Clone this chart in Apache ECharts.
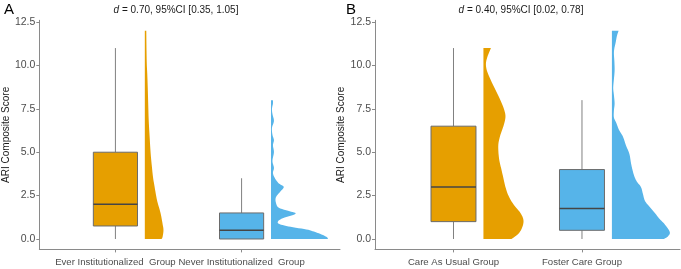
<!DOCTYPE html>
<html>
<head>
<meta charset="utf-8">
<script src="https://cdn.jsdelivr.net/npm/echarts@6/dist/echarts.min.js"></script>
<style>
  html, body { margin: 0; padding: 0; background: #fff; }
  #main { width: 681px; height: 269px; }
</style>
</head>
<body>
<div id="main"></div>
<script>
// groups (x categories)
const groupsA = ['Ever Institutionalized  Group', 'Never Institutionalized  Group'];
const groupsB = ['Care As Usual Group', 'Foster Care Group'];
const colors = ['#E69F00', '#56B4E9'];

// box stats: [min, Q1, median, Q3, max]
const boxA = [[0, 0.75, 2, 5, 11], [0, 0, 0.5, 1.5, 3.5]];
const boxB = [[0, 1, 3, 6.5, 11], [0, 0.5, 1.75, 4, 8]];

// half-violin densities: [score, relative density]
const densEver = [[0, 17], [0.1, 18], [0.5, 19], [0.9, 18], [1.5, 16], [2.1, 13], [2.5, 11.5], [3, 10], [3.5, 8.5],
  [4, 7.5], [4.9, 6], [5.8, 5], [6.8, 4], [7.7, 3.5], [8.7, 3], [9.5, 2.5], [10.1, 2], [11, 1.7], [12, 1.5]];
const densNever = [[0, 58], [0.1, 57], [0.25, 52], [0.4, 45], [0.55, 36], [0.7, 20], [0.85, 9], [1, 7], [1.2, 12],
  [1.45, 25], [1.6, 19], [1.8, 8], [2.1, 5], [2.4, 5], [2.7, 9], [3, 13], [3.2, 8], [3.5, 4], [3.8, 2], [4.1, 3],
  [4.5, 1.5], [5, 3], [5.4, 2], [5.7, 3], [6, 1.5], [6.4, 1], [6.8, 3], [7.2, 1.5], [7.5, 1], [7.8, 2], [8, 2]];
const densCare = [[0, 28], [0.3, 35], [0.7, 39], [1.1, 40], [1.5, 37], [2, 30], [2.5, 25], [3, 22], [3.5, 20],
  [4, 18], [4.5, 16], [5, 15], [5.5, 15], [6, 17], [6.5, 20], [7, 22], [7.4, 21], [8, 17], [8.6, 12], [9.2, 7],
  [9.7, 3.5], [10.1, 2.5], [10.5, 4], [11, 7.5]];
const densFoster = [[0, 52], [0.15, 56], [0.35, 58], [0.6, 56], [0.9, 52], [1.2, 47], [1.5, 43], [1.9, 37], [2.2, 33],
  [2.6, 31], [3, 29], [3.3, 25], [3.6, 22.5], [4, 20.5], [4.4, 19], [4.9, 17.5], [5.4, 14], [5.9, 11], [6.3, 7],
  [6.7, 4.3], [7, 2], [7.4, 2], [7.8, 2.7], [8.3, 2], [8.7, 1.3], [9.2, 2], [9.7, 2.7], [10.2, 2.5], [10.7, 2],
  [11, 2.5], [11.3, 3.7], [11.7, 5], [12, 6.7]];

const yTicks = [0, 2.5, 5, 7.5, 10, 12.5];
const titles = ['{i|d} = 0.70, 95%CI [0.35, 1.05]', '{i|d} = 0.40, 95%CI [0.02, 0.78]'];
const panelTags = ['A', 'B'];

const font = 'Liberation Sans, Arial, sans-serif';
const boxHalf = 0.175;     // half box width in x units
const violinGap = 0.233;   // violin start offset from group centre
const densScale = 1 / 128.5;

var myChart = echarts.init(document.getElementById('main'));

function yAxisOpt(gi) {
  return {
    gridIndex: gi, type: 'value', min: -0.6, max: 12.6,
    name: 'ARI Composite Score', nameLocation: 'middle', nameGap: 23,
    nameTextStyle: { fontFamily: font, fontSize: 10, color: '#1a1a1a' },
    axisLine: { show: true, lineStyle: { color: '#8a8a8a', width: 1 } },
    axisTick: { show: true, length: 3, customValues: yTicks, lineStyle: { color: '#8a8a8a' } },
    axisLabel: { customValues: yTicks, margin: 4, fontFamily: font, fontSize: 10.5, color: '#4d4d4d',
      formatter: v => v.toFixed(1) },
    splitLine: { show: false }
  };
}
function xAxisOpt(gi, min, max, names) {
  return {
    gridIndex: gi, type: 'value', min: min, max: max,
    axisLine: { show: true, onZero: false, lineStyle: { color: '#8a8a8a', width: 1 } },
    axisTick: { show: true, length: 3, customValues: [1, 2], lineStyle: { color: '#8a8a8a' } },
    axisLabel: { customValues: [1, 2], margin: 8, fontFamily: font, fontSize: 9.6, color: '#4d4d4d',
      formatter: v => names[Math.round(v) - 1] },
    splitLine: { show: false }
  };
}

function boxSeries(gi, stats) {
  return {
    type: 'custom', xAxisIndex: gi, yAxisIndex: gi,
    data: stats.map((s, i) => [i + 1].concat(s)),
    renderItem: function (params, api) {
      const x = api.value(0);
      const lo = api.coord([x, api.value(1)]);
      const q1 = api.coord([x - boxHalf, api.value(2)]);
      const med = api.value(3);
      const q3 = api.coord([x + boxHalf, api.value(4)]);
      const hi = api.coord([x, api.value(5)]);
      const mL = api.coord([x - boxHalf, med]);
      const mR = api.coord([x + boxHalf, med]);
      const c = colors[params.dataIndex];
      return {
        type: 'group',
        children: [
          { type: 'line', shape: { x1: lo[0], y1: lo[1], x2: lo[0], y2: q1[1] }, style: { stroke: '#808080', lineWidth: 1 } },
          { type: 'line', shape: { x1: hi[0], y1: hi[1], x2: hi[0], y2: q3[1] }, style: { stroke: '#808080', lineWidth: 1 } },
          { type: 'rect', shape: { x: q1[0], y: q3[1], width: q3[0] - q1[0], height: q1[1] - q3[1] },
            style: { fill: c, stroke: '#6b6b6b', lineWidth: 1 } },
          { type: 'line', shape: { x1: mL[0], y1: mL[1], x2: mR[0], y2: mR[1] }, style: { stroke: '#454545', lineWidth: 1.5 } }
        ]
      };
    }
  };
}

// catmull-rom sampling of the outer edge, only for a smooth outline
function smoothEdge(pts) {
  const out = [];
  const n = pts.length;
  for (let i = 0; i < n - 1; i++) {
    const p0 = pts[Math.max(i - 1, 0)], p1 = pts[i], p2 = pts[i + 1], p3 = pts[Math.min(i + 2, n - 1)];
    for (let k = 0; k < 6; k++) {
      const t = k / 6, t2 = t * t, t3 = t2 * t;
      const f = (a, b, c, d) => 0.5 * (2 * b + (-a + c) * t + (2 * a - 5 * b + 4 * c - d) * t2 + (-a + 3 * b - 3 * c + d) * t3);
      out.push([f(p0[0], p1[0], p2[0], p3[0]), f(p0[1], p1[1], p2[1], p3[1])]);
    }
  }
  out.push(pts[n - 1]);
  return out;
}

function violinSeries(gi, densList) {
  return {
    type: 'custom', xAxisIndex: gi, yAxisIndex: gi,
    data: densList.map((d, i) => [i + 1, 0]),
    renderItem: function (params, api) {
      const gx = api.value(0) + violinGap;
      const dens = densList[params.dataIndex];
      const edge = dens.map(p => api.coord([gx + p[1] * densScale, p[0]]));
      const pts = smoothEdge(edge);
      pts.push(api.coord([gx, dens[dens.length - 1][0]]));
      pts.push(api.coord([gx, dens[0][0]]));
      return {
        type: 'polygon',
        shape: { points: pts },
        style: { fill: colors[params.dataIndex], stroke: null }
      };
    }
  };
}

const graphics = [];
[176, 521].forEach((cx, i) => {
  graphics.push({
    type: 'text', x: cx, y: 10,
    style: { text: titles[i], align: 'center', verticalAlign: 'middle', fill: '#1a1a1a',
      fontFamily: font, fontSize: 10, rich: { i: { fontStyle: 'italic', fontFamily: font, fontSize: 10, fill: '#1a1a1a' } } }
  });
});
[4, 346].forEach((lx, i) => {
  graphics.push({
    type: 'text', x: lx, y: 2,
    style: { text: panelTags[i], fill: '#000', fontFamily: font, fontSize: 15 }
  });
});

myChart.setOption({
  animation: false,
  backgroundColor: '#fff',
  grid: [
    { left: 33, right: 341, top: 20.3, bottom: 19.6 },
    { left: 375, right: 1, top: 20.3, bottom: 19.6 }
  ],
  xAxis: [xAxisOpt(0, 0.397, 2.78, groupsA), xAxisOpt(1, 0.389, 2.763, groupsB)],
  yAxis: [yAxisOpt(0), yAxisOpt(1)],
  graphic: graphics,
  series: [
    boxSeries(0, boxA),
    violinSeries(0, [densEver, densNever]),
    boxSeries(1, boxB),
    violinSeries(1, [densCare, densFoster])
  ]
});
</script>
</body>
</html>
